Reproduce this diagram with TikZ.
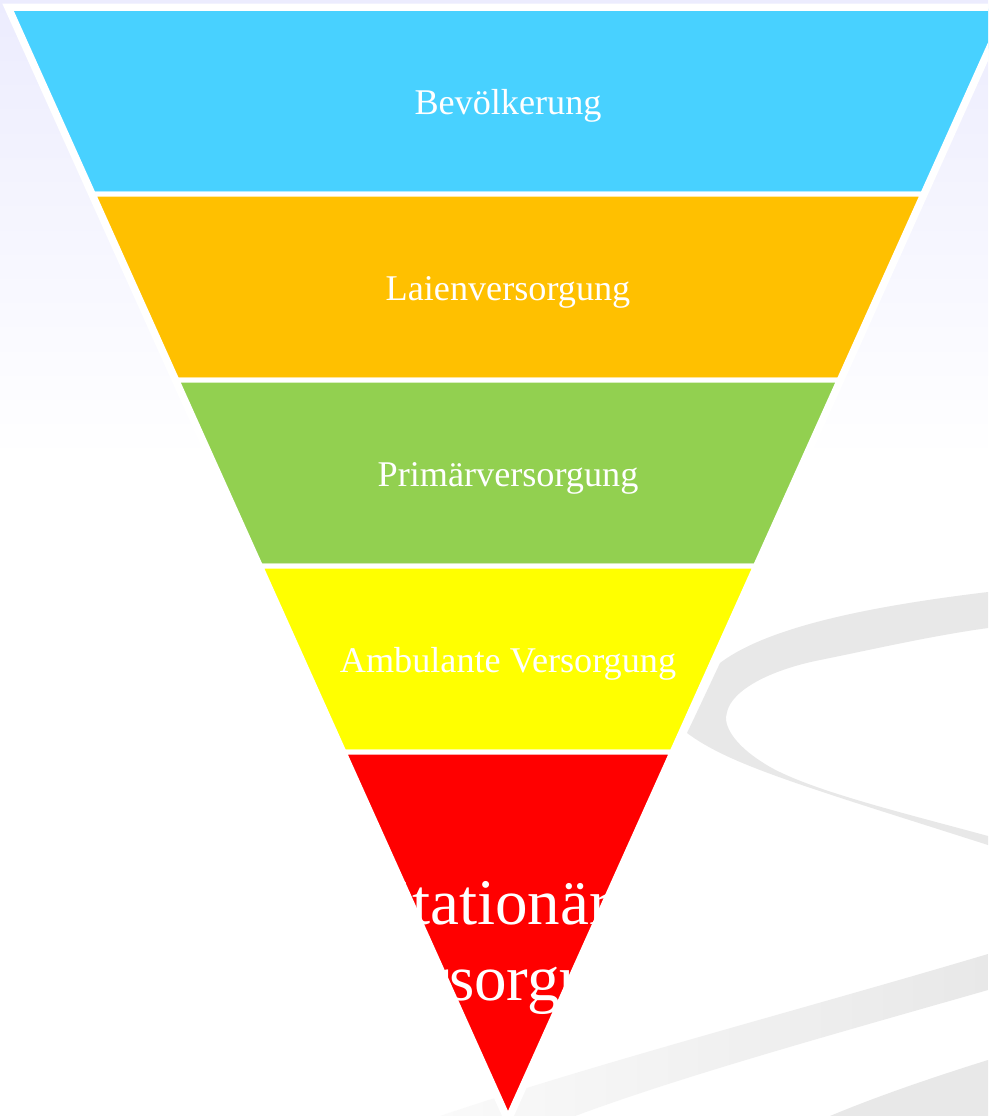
\documentclass[tikz,border=0pt]{standalone}
\usepackage{fontspec}
\setmainfont{Liberation Serif}
\usetikzlibrary{calc}

\definecolor{lavender}{RGB}{236,236,254}
\definecolor{bevcol}{RGB}{72,209,255}
\definecolor{laiencol}{RGB}{255,192,0}
\definecolor{primcol}{RGB}{146,208,80}
\definecolor{ambcol}{RGB}{255,255,0}
\definecolor{statcol}{RGB}{255,0,0}
\definecolor{swoosh}{RGB}{232,232,232}

\tikzset{
  band/.style={draw=white, line width=0.5mm, line join=miter},
  lbl/.style={text=white, anchor=base, font=\fontsize{10.3}{12}\selectfont},
  biglbl/.style={text=white, align=center, font=\fontsize{18.5}{21.5}\selectfont}
}

\begin{document}
\begin{tikzpicture}[x=0.1mm, y=-0.1mm]
			%%%%% START %%%%%
			\useasboundingbox (0,0) rectangle (988,1116);
			\clip (0,0) rectangle (988,1116);
			
			% backdrop, lavender fading out to white
			\fill[white] (0,0) rectangle (988,1116);
			\shade[top color=lavender, bottom color=white] (0,0) rectangle (988,460);
			
			% grey ribbons behind the funnel
			\fill[swoosh] (988,592) .. controls (880,605) and (770,625) .. (720,663) -- (697,712) -- (687,733)
				.. controls (730,765) and (800,785) .. (988,845) -- (988,836)
				.. controls (900,812) and (800,788) .. (762,762)
				.. controls (735,745) and (722,725) .. (727,712)
				.. controls (732,690) and (770,670) .. (820,660)
				.. controls (870,650) and (930,636) .. (988,628) -- cycle;
			\shade[left color=black!2, right color=black!9] (440,1116) .. controls (600,1062) and (800,1010) .. (988,954)
				-- (988,990) .. controls (820,1038) and (680,1077) .. (575,1116) -- cycle;
			\fill[black!9] (830,1116) .. controls (880,1095) and (940,1075) .. (988,1060) -- (988,1116) -- cycle;
			
			% funnel, white rim first
			\draw[white, line width=1mm, line join=miter] (10,8.5) -- (1006,8.5) -- (508,1117) -- cycle;
			\draw[band, fill=bevcol] (10,8.5) -- (1006,8.5) -- (922.7,194) -- (93.3,194) -- cycle;
			\draw[band, fill=laiencol] (93.3,194) -- (922.7,194) -- (839.1,380) -- (176.9,380) -- cycle;
			\draw[band, fill=primcol] (176.9,380) -- (839.1,380) -- (755.5,566) -- (260.5,566) -- cycle;
			\draw[band, fill=ambcol] (260.5,566) -- (755.5,566) -- (672,752) -- (344,752) -- cycle;
			\draw[band, fill=statcol] (344,752) -- (672,752) -- (508,1117) -- cycle;
			
			% labels
			\node[lbl] (bev) at (508,114) {Bevölkerung};
			\node[lbl] (laien) at (508,300) {Laienversorgung};
			\node[lbl] (prim) at (508,486) {Primärversorgung};
			\node[lbl] (amb) at (508,672) {Ambulante Versorgung};
			\node[biglbl] (stat) at (508,948) {Stationäre\\Versorgung};
			
			%%%%% END %%%%%
		\end{tikzpicture}
\end{document}
